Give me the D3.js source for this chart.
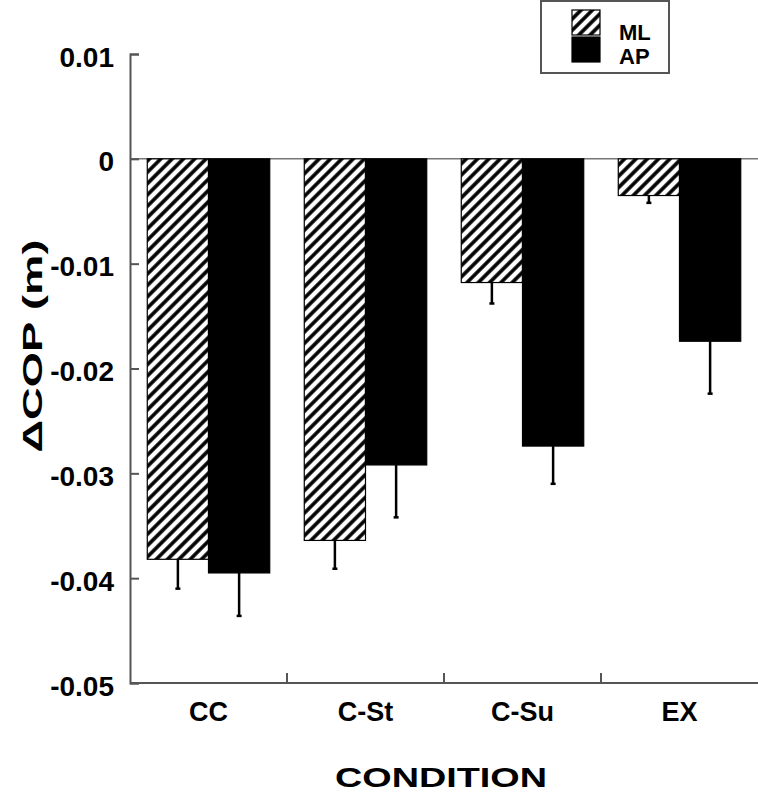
<!DOCTYPE html>
<html>
<head>
<meta charset="utf-8">
<script src="https://cdn.jsdelivr.net/npm/d3@7"></script>
<style>
  body { margin: 0; background: #fff; }
  svg { display: block; font-family: "Liberation Sans", Arial, sans-serif; font-weight: bold; }
</style>
</head>
<body>
<svg id="chart" width="758" height="798"></svg>
<script>
// data
const categories = ['CC', 'C-St', 'C-Su', 'EX'];
const seriesNames = ['ML', 'AP'];
const mlValues = [-0.0382, -0.0364, -0.0118, -0.0035];
const mlErrors = [0.0028, 0.0027, 0.0020, 0.0007];
const apValues = [-0.0395, -0.0292, -0.0274, -0.0174];
const apErrors = [0.0041, 0.0050, 0.0036, 0.0050];
const yTicks = [0.01, 0, -0.01, -0.02, -0.03, -0.04, -0.05];
const yTickLabels = ['0.01', '0', '-0.01', '-0.02', '-0.03', '-0.04', '-0.05'];

const svg = d3.select('#chart');

const defs = svg.append('defs');
defs.append('pattern')
  .attr('id', 'hatch')
  .attr('patternUnits', 'userSpaceOnUse')
  .attr('width', 8)
  .attr('height', 8)
  .attr('patternTransform', 'rotate(45)')
  .call((p) => {
    p.append('rect').attr('width', 8).attr('height', 8).attr('fill', '#fff');
    p.append('line')
      .attr('x1', 2).attr('y1', 0).attr('x2', 2).attr('y2', 8)
      .attr('stroke', '#000').attr('stroke-width', 3.6);
  });

const plotLeft = 130, plotRight = 758, plotTop = 54, plotBottom = 683;

const x0 = d3.scaleBand()
  .domain(categories)
  .range([plotLeft, plotRight])
  .paddingInner(0.22)
  .paddingOuter(0.11);

const x1 = d3.scaleBand()
  .domain(seriesNames)
  .range([0, x0.bandwidth()]);

const y = d3.scaleLinear()
  .domain([-0.05, 0.01])
  .range([plotBottom, plotTop]);

const rows = [];
categories.forEach((c, i) => {
  rows.push({ cat: c, s: 'ML', v: mlValues[i], e: mlErrors[i] });
  rows.push({ cat: c, s: 'AP', v: apValues[i], e: apErrors[i] });
});

// zero line
svg.append('line')
  .attr('x1', plotLeft).attr('x2', plotRight)
  .attr('y1', y(0)).attr('y2', y(0))
  .attr('stroke', '#777').attr('stroke-width', 1.5);

// error bars (drawn before bars, only the lower part shows)
const err = svg.append('g').attr('stroke', '#000').attr('stroke-width', 2.5);
rows.forEach((d) => {
  const cx = x0(d.cat) + x1(d.s) + x1.bandwidth() / 2;
  err.append('line')
    .attr('x1', cx).attr('x2', cx)
    .attr('y1', y(d.v)).attr('y2', y(d.v - d.e));
  err.append('line')
    .attr('x1', cx - 2.5).attr('x2', cx + 2.5)
    .attr('y1', y(d.v - d.e)).attr('y2', y(d.v - d.e));
});

// bars
svg.append('g')
  .selectAll('rect')
  .data(rows)
  .join('rect')
  .attr('x', (d) => x0(d.cat) + x1(d.s))
  .attr('width', x1.bandwidth())
  .attr('y', y(0))
  .attr('height', (d) => y(d.v) - y(0))
  .attr('fill', (d) => (d.s === 'ML' ? 'url(#hatch)' : '#000'))
  .attr('stroke', '#000')
  .attr('stroke-width', 1.2);

// y axis
const yAxis = d3.axisRight(y)
  .tickValues(yTicks)
  .tickSize(9)
  .tickFormat('');
svg.append('g')
  .attr('transform', `translate(${plotLeft},0)`)
  .call(yAxis)
  .call((g) => g.select('.domain').attr('stroke', '#555').attr('stroke-width', 2))
  .call((g) => g.selectAll('.tick line').attr('stroke', '#555').attr('stroke-width', 2));

svg.append('g')
  .selectAll('text')
  .data(yTicks)
  .join('text')
  .attr('x', 114)
  .attr('y', (d) => y(d) + 3)
  .attr('text-anchor', 'end')
  .attr('dominant-baseline', 'central')
  .attr('font-size', 28)
  .text((d, i) => yTickLabels[i]);

// x axis
const bounds = categories.slice(1).map((c) => x0(c) - x0.step() * x0.paddingInner() / 2);
svg.append('line')
  .attr('x1', plotLeft).attr('x2', plotRight)
  .attr('y1', plotBottom).attr('y2', plotBottom)
  .attr('stroke', '#555').attr('stroke-width', 2);
svg.append('g')
  .selectAll('line')
  .data(bounds)
  .join('line')
  .attr('x1', (d) => d).attr('x2', (d) => d)
  .attr('y1', plotBottom).attr('y2', plotBottom - 10)
  .attr('stroke', '#555').attr('stroke-width', 2);

svg.append('g')
  .selectAll('text')
  .data(categories)
  .join('text')
  .attr('x', (d) => x0(d) + x0.bandwidth() / 2)
  .attr('y', 721)
  .attr('text-anchor', 'middle')
  .attr('font-size', 27)
  .text((d) => d);

// axis titles
svg.append('text')
  .attr('x', 441)
  .attr('y', 787)
  .attr('text-anchor', 'middle')
  .attr('font-size', 28)
  .attr('textLength', 212)
  .attr('lengthAdjust', 'spacingAndGlyphs')
  .text('CONDITION');

svg.append('text')
  .attr('transform', 'translate(42,346) rotate(-90)')
  .attr('text-anchor', 'middle')
  .attr('font-size', 28)
  .attr('textLength', 213)
  .attr('lengthAdjust', 'spacingAndGlyphs')
  .text('\u0394COP (m)');

// legend
const legend = svg.append('g');
legend.append('rect')
  .attr('x', 541).attr('y', 1)
  .attr('width', 128).attr('height', 72)
  .attr('fill', '#fff')
  .attr('stroke', '#555').attr('stroke-width', 2);
legend.selectAll('.sw')
  .data(seriesNames)
  .join('rect')
  .attr('class', 'sw')
  .attr('x', 572)
  .attr('y', (d, i) => 10 + i * 27)
  .attr('width', 28)
  .attr('height', 25)
  .attr('fill', (d) => (d === 'ML' ? 'url(#hatch)' : '#000'))
  .attr('stroke', '#000')
  .attr('stroke-width', 1.2);
legend.selectAll('.lb')
  .data(seriesNames)
  .join('text')
  .attr('class', 'lb')
  .attr('x', 619)
  .attr('y', (d, i) => 40 + i * 24)
  .attr('font-size', 22)
  .text((d) => d);
</script>
</body>
</html>
